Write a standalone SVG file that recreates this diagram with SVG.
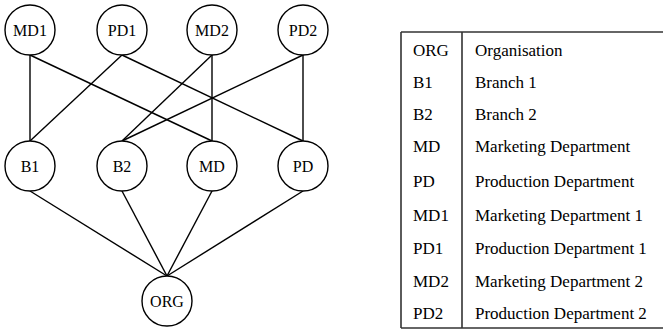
<svg xmlns="http://www.w3.org/2000/svg" width="663" height="331" viewBox="0 0 663 331">
<style>
.n circle{fill:#fff;stroke:#000;stroke-width:1.4}
.n text{font-family:"Liberation Serif",serif;font-size:16px;text-anchor:middle;fill:#000}
#edges line{stroke:#000;stroke-width:1.4}
#table line{stroke:#333;stroke-width:1.6}
#table text{font-family:"Liberation Serif",serif;font-size:17px;fill:#000}
</style>
<rect width="663" height="331" fill="#fff"/>
<g id="edges">
<line x1="30" y1="55" x2="30" y2="141"/>
<line x1="30" y1="55" x2="212" y2="141"/>
<line x1="122" y1="55" x2="30" y2="141"/>
<line x1="122" y1="55" x2="303" y2="141"/>
<line x1="212" y1="55" x2="122" y2="141"/>
<line x1="212" y1="55" x2="212" y2="141"/>
<line x1="303" y1="55" x2="122" y2="141"/>
<line x1="303" y1="55" x2="303" y2="141"/>
<line x1="30" y1="191" x2="167" y2="276"/>
<line x1="122" y1="191" x2="167" y2="276"/>
<line x1="212" y1="191" x2="167" y2="276"/>
<line x1="303" y1="191" x2="167" y2="276"/>
</g>
<g id="MD1" class="n"><circle cx="30" cy="30" r="25"/><text x="30" y="36">MD1</text></g>
<g id="PD1" class="n"><circle cx="122" cy="30" r="25"/><text x="122" y="36">PD1</text></g>
<g id="MD2" class="n"><circle cx="212" cy="30" r="25"/><text x="212" y="36">MD2</text></g>
<g id="PD2" class="n"><circle cx="303" cy="30" r="25"/><text x="303" y="36">PD2</text></g>
<g id="B1" class="n"><circle cx="30" cy="166" r="25"/><text x="30" y="172">B1</text></g>
<g id="B2" class="n"><circle cx="122" cy="166" r="25"/><text x="122" y="172">B2</text></g>
<g id="MD" class="n"><circle cx="212" cy="166" r="25"/><text x="212" y="172">MD</text></g>
<g id="PD" class="n"><circle cx="303" cy="166" r="25"/><text x="303" y="172">PD</text></g>
<g id="ORG" class="n"><circle cx="167" cy="301" r="25"/><text x="167" y="307">ORG</text></g>
<g id="table">
<line x1="401" y1="32" x2="663" y2="32"/>
<line x1="401" y1="328" x2="663" y2="328"/>
<line x1="401" y1="32" x2="401" y2="328"/>
<line x1="462" y1="32" x2="462" y2="328"/>
<text x="413" y="56">ORG</text><text x="475" y="56">Organisation</text>
<text x="413" y="88">B1</text><text x="475" y="88">Branch 1</text>
<text x="413" y="120">B2</text><text x="475" y="120">Branch 2</text>
<text x="413" y="152">MD</text><text x="475" y="152">Marketing Department</text>
<text x="413" y="187">PD</text><text x="475" y="187">Production Department</text>
<text x="413" y="221">MD1</text><text x="475" y="221">Marketing Department 1</text>
<text x="413" y="254">PD1</text><text x="475" y="254">Production Department 1</text>
<text x="413" y="287">MD2</text><text x="475" y="287">Marketing Department 2</text>
<text x="413" y="319">PD2</text><text x="475" y="319">Production Department 2</text>
</g>
</svg>
